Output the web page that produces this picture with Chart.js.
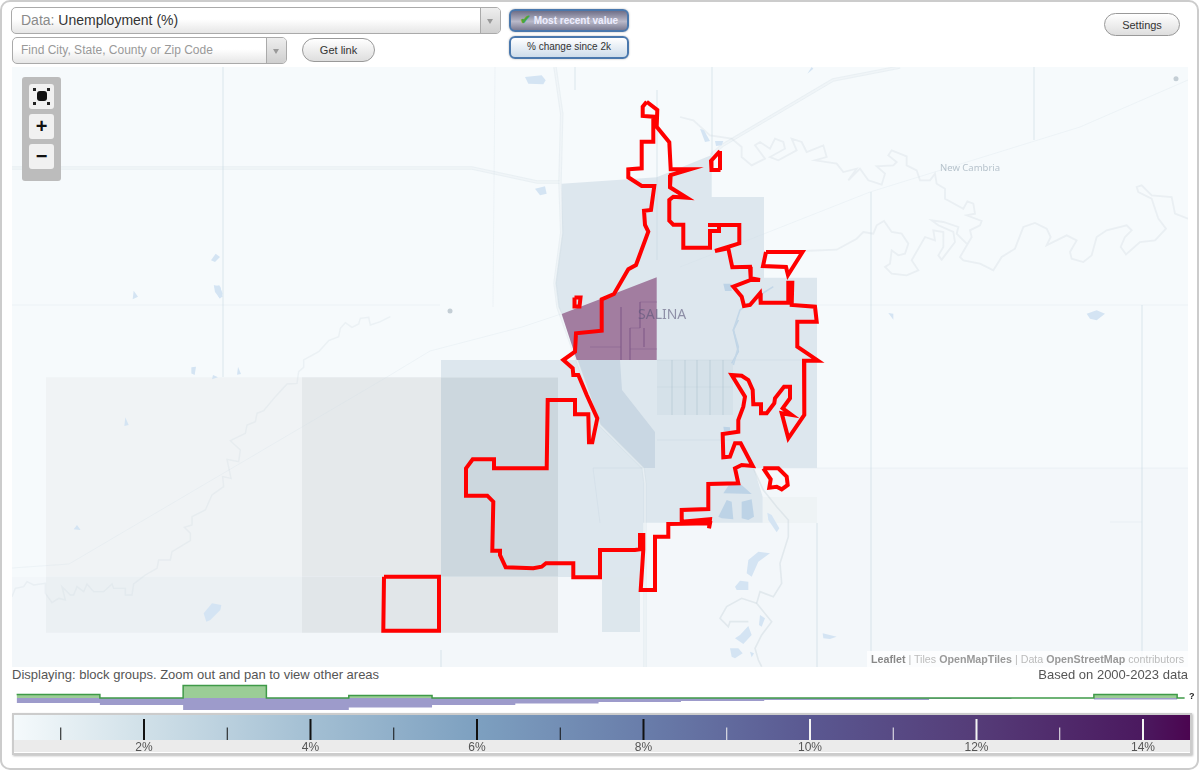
<!DOCTYPE html>
<html>
<head>
<meta charset="utf-8">
<title>Unemployment (%)</title>
<script src="https://cdn.jsdelivr.net/npm/chart.js@4"></script>
<style>
  html, body { margin: 0; padding: 0; background: #fff; }
  body { width: 1200px; height: 771px; position: relative; overflow: hidden; font-family: "Liberation Sans", Arial, sans-serif; }
  .frame { position: absolute; left: 0; top: 0; width: 1195px; height: 766px; border: 2px solid #ccc; border-radius: 10px; }
  .abs { position: absolute; box-sizing: border-box; white-space: nowrap; }
  canvas { position: absolute; display: block; }

  .select { border: 1px solid #aaa; border-radius: 5px; background: linear-gradient(#fff 45%, #e6e6e6); color: #8a8a8a; }
  .select .arrow { position: absolute; right: 0; top: 0; bottom: 0; width: 19px; border-left: 1px solid #aaa; background: linear-gradient(#eee, #cfcfcf); border-radius: 0 4px 4px 0; }
  .select .arrow::after { content: ""; position: absolute; left: 6px; top: 11px; border: 3px solid transparent; border-top: 5px solid #999; }
  .pill { border: 1px solid #999; border-radius: 13px; background: linear-gradient(#fff, #dedede); color: #333; font-size: 11px; text-align: center; line-height: 22px; }
  .toggle { border: 2px solid #4a78ad; border-radius: 6px; font-size: 10px; text-align: center; line-height: 18px; box-shadow: 0 0 2px #aaa; }

  .zoombox { left: 22px; top: 77px; width: 39px; height: 104px; background: #bcbcbc; border-radius: 3px; }
  .zoombtn { left: 29px; width: 25px; height: 25px; background: #f1f1f1; border-radius: 3px; text-align: center; font-weight: bold; font-size: 20px; line-height: 24px; color: #111; }
  .fit { left: 8px; top: 7px; width: 10px; height: 10px; background: #111; border-radius: 3px; }
  .corner { width: 3px; height: 3px; background: #222; }
</style>
</head>
<body>
<div class="frame"></div>

<div class="abs select" style="left:11px;top:7px;width:490px;height:27px;font-size:14px;line-height:25px;padding-left:9px;">Data: <span style="color:#333">Unemployment (%)</span><div class="arrow"></div></div>
<div class="abs select" style="left:12px;top:37px;width:275px;height:27px;font-size:12px;line-height:25px;padding-left:8px;color:#999;">Find City, State, County or Zip Code<div class="arrow"></div></div>
<div class="abs pill" style="left:302px;top:38px;width:73px;height:24px;">Get link</div>
<div class="abs toggle" style="left:509px;top:9px;width:120px;height:23px;color:#eef;font-weight:bold;background:linear-gradient(#6f6f88,#b9b9c9 55%,#7b7b92);"><span style="color:#4aa63c;font-size:13px;">&#10004;</span> Most recent value</div>
<div class="abs toggle" style="left:509px;top:36px;width:120px;height:23px;color:#333;background:linear-gradient(#fff,#cddcea);">% change since 2k</div>
<div class="abs pill" style="left:1104px;top:13px;width:76px;height:23px;font-size:11px;">Settings</div>

<canvas id="map-chart" width="1176" height="600" style="left:12px;top:67px;width:1176px;height:600px;"></canvas>

<div class="abs zoombox"></div>
<div class="abs zoombtn" style="top:84px;">
  <div class="abs fit"></div>
  <div class="abs corner" style="left:4px;top:4px;"></div><div class="abs corner" style="right:4px;top:4px;"></div>
  <div class="abs corner" style="left:4px;bottom:4px;"></div><div class="abs corner" style="right:4px;bottom:4px;"></div>
</div>
<div class="abs zoombtn" style="top:114px;">+</div>
<div class="abs zoombtn" style="top:144px;">&minus;</div>

<div class="abs" style="left:638px;top:306px;font-family:'Noto Sans',sans-serif;font-size:14px;line-height:16px;color:rgba(90,85,120,.6);">SALINA</div>
<div class="abs" style="left:940px;top:161px;font-family:'Noto Sans',sans-serif;font-size:9.5px;line-height:14px;color:#b7c3cc;">New Cambria</div>
<div class="abs" style="left:867px;top:651px;width:321px;height:16px;background:rgba(255,255,255,.75);font-size:10.7px;line-height:17px;padding-left:4px;color:#bbb;"><b style="color:#888;font-weight:bold">Leaflet</b> | Tiles <b style="color:#999">OpenMapTiles</b> | Data <b style="color:#999">OpenStreetMap</b> contributors</div>

<div class="abs" style="left:12px;top:667px;font-size:13px;line-height:15px;color:#555;">Displaying: block groups. Zoom out and pan to view other areas</div>
<div class="abs" style="right:12px;top:667px;font-size:13px;line-height:15px;color:#555;">Based on 2000-2023 data</div>

<canvas id="hist-chart" width="1176" height="30" style="left:14px;top:682px;width:1176px;height:30px;"></canvas>
<div class="abs" style="left:1189px;top:690px;font-size:9px;line-height:12px;font-weight:bold;color:#222;">?</div>

<div class="abs" style="left:12px;top:713px;width:1180px;height:42px;border:2px solid #ccc;box-shadow:1px 1px 2px #bbb;"></div>
<canvas id="scale-chart" width="1176" height="37" style="left:14px;top:715px;width:1176px;height:37px;background:#ebebeb;"></canvas>

<script>
// ==========================================================================
// Data: histogram and colour scale
// ==========================================================================
const binEdges = [0.47, 1.47, 2.47, 3.47, 4.46, 5.46, 6.46, 7.46, 8.45, 9.45, 10.44, 11.43, 12.42, 13.41, 14.41];
const placeShare = [3.5, 0, 12.5, 0, 2.5, 0, 0, 0, 0, 0, 0, 0, 0, 3.5];
const blockGroupShare = [5, 7, 12, 12, 9.5, 7, 5.5, 4, 3, 2, 2, 1, 0, 1.5];
const missingBinEnd = 14.5;

const labelledTicks = [2, 4, 6, 8, 10, 12, 14];
const darkMajorTicks = [2, 4, 6, 8];
const darkMinorTicks = [1, 3, 5, 7];
const lightMajorTicks = [10, 12, 14];
const lightMinorTicks = [9, 11, 13];
const scaleStopValues = [0.4384, 2, 4, 6, 8, 10, 12, 14, 14.5646];
const scaleStopColors = ['#f5fafc', '#d0e0e8', '#a3bfd3', '#7da0c0', '#697daa', '#5a5891', '#553c78', '#4b195f', '#4b0550'];

// ==========================================================================
// Data: map shapes, in map units (x, y of the 1176x600 view)
// ==========================================================================
const cityBoundary = [[646.7,101.7],[657.3,110],[656.7,126.7],[669.3,142.3],[670.7,169.3],[690,169.3],[670.7,175],[670,187.3],[686.7,197.7],[673.3,196.7],[669.3,200],[669.3,220.7],[673.3,224.7],[683.3,224.7],[683.3,247.7],[710,247.7],[710,231],[719,231],[719,225],[708,225],[719,225],[739.3,225],[739.3,243.3],[715,251],[728.3,248.3],[732.3,267.3],[750,266.7],[750.7,278.3],[760,280],[750.7,280],[733.3,286.7],[741.7,296.7],[744,306],[750,305],[760,293.3],[760.7,302.7],[788.3,302.7],[788.3,282.7],[792.3,282.7],[791.7,305],[815,306.7],[816.7,321.7],[797.3,321.7],[797.3,346.7],[818,360.7],[804,360.7],[804.3,415],[788.3,438.3],[781.7,413.3],[791.7,415],[782.7,408.3],[790,398.3],[790,386.7],[784,386.7],[775,398.3],[774.3,403.3],[766.7,413.3],[761.7,413.3],[761,404.3],[753.3,404.3],[752.7,390],[748.3,380],[741.7,375.7],[731.7,375],[745,396.7],[743.3,406.7],[738.3,420],[738.3,431.7],[722.7,434],[723.3,457.3],[730,456.7],[735,443.3],[740.7,443.3],[752.7,466],[741.7,465],[735,468.3],[738.3,483.3],[708.3,484],[708.3,509],[681.7,510],[681.7,521.7],[710,519.3],[709,528.3],[710,523.3],[668.3,524],[668.3,536.7],[655,536.7],[655,590],[640.7,590],[643.3,550],[643.3,535],[640,535],[640,549.3],[635,550],[600,550],[600,577.3],[573.3,577.3],[573.3,563.3],[546,563.3],[541.7,566.7],[533.3,568.3],[505.7,567.3],[500,555],[500,550.7],[492.3,550.7],[493.3,501.7],[487.3,495.7],[466,495.7],[466,468.3],[472.7,459.3],[494,459.3],[494,468.3],[546.7,468.3],[547.7,400],[575,400],[575,414.3],[588.3,414.3],[589,442.3],[592.3,442.3],[597.3,418.3],[586.7,395],[578.3,375],[573.3,375],[572.7,368.3],[563.3,360],[575,351.7],[576,333.3],[601.7,330.7],[601.7,299.3],[614,294],[628.3,269.3],[636,265],[648.3,231.7],[645,225],[644,210.7],[651,210],[654.3,186],[641.7,186],[628.3,177.3],[628.3,169.3],[641.7,168.3],[641.7,141.7],[653.3,141.7],[653.3,116.7],[642.7,116],[642.7,106.7],[646.7,101.7]];
const cityIslands = [
  [[574.5,297.5],[580.5,297.5],[579.5,306.5],[574.5,306.5],[574.5,297.5]],
  [[720,151],[711,161],[711.5,170],[720.5,170],[720,151]],
  [[766,252],[802.5,252],[788,275],[786,267],[763,266],[766,252]],
  [[763.3,468.3],[778.3,468.3],[786.7,476.7],[787.7,485],[781.7,489.3],[776.7,486.7],[769.3,487.7],[770.7,479.3],[763.3,468.3]],
  [[384,576.7],[439,576.7],[439,630.7],[383.3,630.7],[384,576.7]]
];

const selectedTract = [[561.7,314],[656.7,277.3],[656.7,360],[576.7,360],[561.7,314]];
const tractStreets = [
  [[621,307],[621,360]],
  [[640,302],[657,302]],
  [[640,302],[640,328],[630,328],[630,360]],
  [[630,349],[657,349]],
  [[644,328],[644,347]],
  [[590,347],[621,347]]
];

const lightArea = [[561.7,183.7],[656.7,177.3],[711.7,155],[711.7,197],[764,197],[764,277.7],[817,277.7],[817,468.3],[754,468.3],[762.7,497],[762.7,522.7],[643,522.7],[643,577],[558,577],[558,377],[441,377],[441,360],[576.7,360],[561.7,314],[558,307],[555,283.7],[561.7,233.7],[561.7,183.7]];
const midArea = [[577,360],[620,360],[622,390],[655,432],[655,468],[642,468],[600,425],[577,360]];
const centreArea = [[657,360],[733,360],[733,415],[657,415],[657,360]];
const southStrip = [[602,577],[640,577],[640,632],[602,632],[602,577]];
const darkArea = [[441,377.3],[558,377.3],[558,576.7],[441,576.7],[441,377.3]];
const westFarUpper = [[46,377.3],[302,377.3],[302,576.7],[46,576.7],[46,377.3]];
const westFarLower = [[46,576.7],[302,576.7],[302,632.7],[46,632.7],[46,576.7]];
const westNearUpper = [[302,377.3],[441,377.3],[441,576.7],[302,576.7],[302,377.3]];
const westNearLower = [[302,576.7],[558,576.7],[558,632.7],[302,632.7],[302,576.7]];
const eastFaint = [[763,497],[817,497],[817,523],[763,523],[763,497]];
const southEastTint = [[643,468],[1188,468],[1188,667],[643,667],[643,468]];
const southWestTint = [[12,577],[643,577],[643,667],[12,667],[12,577]];

const highways = [
  [[12,168],[472,168],[537,182],[560,182]],
  [[555,67],[561.7,113.7],[560,182],[561.7,233],[555,283],[558,307],[577,360],[600,425],[643,468],[645,483],[645,667]],
  [[711,155],[723,145],[833,80],[900,67]]
];
const sectionRoads = [
  [[223,67],[223,377]], [[495,67],[493,307]], [[657,90],[657,260]], [[712,67],[712,155]],
  [[12,305],[440,305]], [[817,305],[1188,305]], [[817,468],[1188,468]],
  [[561,314],[522,327],[430,351],[387,377],[302,427],[69,564],[12,568]],
  [[680,267],[870,192],[1080,127],[1188,80]],
  [[871,192],[871,667]], [[1142,305],[1142,667]], [[1034,67],[1034,140]],
  [[1110,522],[1142,522]], [[817,523],[817,667]], [[575,67],[575,90]], [[441,650],[441,667]]
];
const cityStreets = [
  [[672,360],[672,415]], [[685,360],[685,415]], [[697,360],[697,415]], [[710,360],[710,415]], [[723,360],[723,415]],
  [[657,387],[733,387]], [[657,360],[817,360]], [[593,468],[643,468]], [[657,440],[735,440]], [[593,468],[600,523]]
];

const riverEastMain = fromCrop(680, 67, [[0,150],[40,160],[90,205],[155,215],[185,240],[185,270],[215,295],[255,275],[225,235],[240,225],[270,245],[285,215],[310,225],[315,245],[270,270],[295,280],[350,250],[335,215],[365,225],[380,255],[430,235],[440,270],[405,280],[470,290],[490,315],[530,305],[505,340],[540,305],[565,340],[605,353],[615,320],[590,298],[640,295],[650,285],[625,265],[635,250],[680,268],[680,295],[710,310],[720,340],[750,340],[765,320],[770,350],[795,365],[795,395],[850,425],[862,403],[880,410],[885,440],[860,445],[905,462],[900,475],[870,490],[875,510],[840,570],[850,580],[900,590],[940,610],[965,570],[1005,545],[1030,480],[1065,468],[1100,485],[1112,510],[1100,535],[1160,505],[1190,520],[1170,555],[1175,575],[1210,585],[1235,565],[1250,510],[1280,490],[1340,475],[1355,490],[1335,510],[1322,540],[1338,562],[1380,525],[1425,520],[1458,485],[1435,455],[1415,395],[1375,375],[1370,360],[1385,355],[1415,385],[1475,390],[1485,440],[1524,455]]);
const riverEastBranch = fromCrop(680, 67, [[370,552],[470,548],[530,515],[550,495],[580,500],[590,475],[612,462],[635,495],[665,500],[685,530],[675,560],[655,565],[635,550],[630,590],[615,600],[635,620],[680,625],[715,610],[695,580],[715,545],[735,510],[765,520],[760,490],[790,495],[790,540],[775,565],[785,578],[825,525],[820,495],[775,475],[755,460],[790,465],[835,480],[830,500],[860,530]]);
const riverWest = fromCrop(12, 280, [[1135,110],[1105,125],[1075,135],[1070,112],[1045,115],[1040,132],[1020,142],[1000,128],[985,145],[980,170],[950,182],[920,215],[875,240],[875,262],[860,275],[855,310],[825,312],[790,350],[755,392],[735,400],[730,425],[705,435],[700,460],[655,482],[685,510],[680,545],[645,538],[657,595],[632,590],[635,620],[600,645],[580,690],[540,710],[540,735],[517,742],[535,760],[535,782],[480,815],[475,840],[440,840],[435,865],[400,885],[365,912],[360,945],[340,945],[340,925],[305,925],[300,912],[275,935],[245,935],[225,912],[215,935],[195,920],[185,945],[175,945],[150,920],[160,960],[140,955],[120,968],[100,940],[100,910],[65,915],[45,905],[35,920],[10,925],[0,950]]);
const riverSouth = fromCrop(680, 320, [[220,445],[250,510],[290,560],[325,600],[325,650],[300,730],[305,790],[280,830],[240,815],[230,850],[275,905],[245,945],[225,985],[235,1020],[245,1040]]);
const riverSouthLoop = fromCrop(680, 320, [[230,850],[185,835],[140,860],[120,895],[145,920],[150,905],[205,905]]);
const riverCity = fromCrop(680, 320, [[175,0],[160,30],[175,95],[155,130]]);
const riverCityNorth = fromCrop(540, 90, [[700,590],[660,615],[600,660],[580,720],[595,770],[580,825]]);

const waterBodies = [
  ...[[[975,30],[1025,25],[1037,40],[1030,52],[985,50]], [[1005,365],[1035,358],[1040,380],[1020,385]], [[33,580],[47,560],[60,570],[45,585]], [[42,658],[58,655],[68,680],[60,695],[45,675]]].map(p => fromCrop(200, 67, p)),
  ...[[[365,32],[378,50],[362,58]], [[605,15],[625,20],[632,50],[622,55]], [[538,262],[552,260],[548,285],[537,280]], [[603,285],[618,292],[600,298]], [[678,260],[687,282],[675,284]], [[340,412],[350,435],[337,438]], [[185,748],[195,735],[206,750]], [[575,1000],[600,970],[628,975],[625,990],[595,1020],[583,1025]]].map(p => fromCrop(12, 280, p)),
  ...[[[60,185],[72,190],[90,222],[75,225]], [[105,222],[130,222],[125,235],[108,237]], [[382,20],[395,0],[400,5]], [[625,738],[640,740],[640,758]], [[1220,740],[1250,730],[1275,740],[1250,760],[1230,755]]].map(p => fromCrop(680, 67, p)),
  ...[[[262,578],[275,585],[298,625],[290,637],[265,600]], [[205,720],[235,695],[270,700],[235,725],[215,770],[200,760]], [[165,800],[180,782],[205,785],[205,810],[170,810]], [[240,885],[255,895],[245,920],[237,915]], [[180,945],[205,918],[215,945],[190,972],[165,955]], [[150,985],[175,985],[188,1000],[165,1015],[155,1010]], [[210,995],[222,1000],[215,1012]], [[428,940],[470,950],[450,957],[430,955]]].map(p => fromCrop(680, 320, p))
];
const cityLakes = [
  ...[[[130,520],[150,490],[185,495],[215,522]], [[115,590],[140,540],[155,545],[160,598],[125,595]], [[185,545],[215,538],[222,590],[205,600],[185,595]], [[130,320],[150,322],[150,333],[132,333]]].map(p => fromCrop(680, 320, p)),
  fromCrop(680, 67, [[130,650],[155,650],[155,672],[135,672]])
];
const townDots = [[1176,78.7],[450,311]];

function fromCrop(left, top, points) {
  return points.map(p => [left + p[0] / 3, top + p[1] / 3]);
}

// ==========================================================================
// Dataset helpers
// ==========================================================================
function toXY(points) {
  return points.map(p => ({ x: p[0], y: p[1] }));
}

function areaSet(points, color) {
  return {
    data: toXY(points), showLine: true, pointRadius: 0, borderWidth: 0,
    backgroundColor: color, fill: 'shape'
  };
}

function lineSet(points, color, width) {
  return {
    data: toXY(points), showLine: true, pointRadius: 0, borderWidth: width,
    borderColor: color, fill: false
  };
}

function closed(points) {
  return points.concat([points[0]]);
}

const baseOptions = {
  responsive: false,
  animation: false,
  events: [],
  // no extra inset for line widths, the axes must fill the canvas exactly
  layout: { padding: 0, autoPadding: false },
  plugins: { legend: { display: false }, tooltip: { enabled: false } }
};

// ==========================================================================
// Map
// ==========================================================================
const mapLayers = [
  areaSet(southEastTint, '#f3f7fa'),
  areaSet(southWestTint, '#f3f7fa'),
  areaSet(westFarUpper, '#f0f3f5'),
  areaSet(westFarLower, '#ebf0f3'),
  areaSet(westNearUpper, '#e5e9eb'),
  areaSet(westNearLower, '#e1e6e9'),
  areaSet(eastFaint, '#eef3f5'),
  areaSet(lightArea, '#dde7ee'),
  areaSet(southStrip, '#dde7ed'),
  areaSet(darkArea, '#ccd7de'),
  areaSet(centreArea, '#d5e1e9'),
  areaSet(midArea, '#c9d7e3'),
  ...highways.map(r => lineSet(r, 'rgba(205,218,226,.3)', 3.5)),
  ...highways.map(r => lineSet(r, 'rgba(246,250,252,.5)', 1.5)),
  ...sectionRoads.map(r => lineSet(r, 'rgba(205,218,226,.22)', 1)),
  ...cityStreets.map(r => lineSet(r, 'rgba(170,190,210,.15)', 1)),
  lineSet(riverEastMain, 'rgba(205,216,222,.3)', 1.8),
  lineSet(riverEastBranch, 'rgba(205,216,222,.3)', 1.8),
  lineSet(riverWest, 'rgba(205,216,222,.25)', 1.4),
  lineSet(riverSouth, 'rgba(205,216,222,.45)', 1.6),
  lineSet(riverSouthLoop, 'rgba(205,216,222,.45)', 1.6),
  lineSet(riverCity, '#bfd4e6', 1.6),
  lineSet(riverCityNorth, '#c3d7e7', 1.6),
  ...waterBodies.map(w => areaSet(closed(w), '#d4e4f3')),
  ...cityLakes.map(w => areaSet(closed(w), '#bdd3e6')),
  { data: toXY(townDots), pointRadius: 2.5, pointBackgroundColor: '#c4ced5', pointBorderWidth: 0 },
  areaSet(selectedTract, '#a27da0'),
  ...tractStreets.map(r => lineSet(r, 'rgba(125,85,135,.4)', 1)),
  lineSet(cityBoundary, '#ff0000', 4),
  ...cityIslands.map(r => lineSet(r, '#ff0000', 4))
];

new Chart(document.getElementById('map-chart'), {
  type: 'scatter',
  // the library paints dataset 0 last, so hand the layers over back to front
  data: { datasets: mapLayers.reverse() },
  options: {
    ...baseOptions,
    scales: {
      x: { type: 'linear', display: false, min: 12, max: 1188 },
      y: { type: 'linear', display: false, min: 67, max: 667, reverse: true }
    }
  },
  plugins: [{
    id: 'mapBackground',
    beforeDraw(chart) {
      chart.ctx.fillStyle = '#f6fafc';
      chart.ctx.fillRect(0, 0, chart.width, chart.height);
    }
  }]
});

// ==========================================================================
// Histogram (same x range as the colour scale below it)
// ==========================================================================
const scaleMin = scaleStopValues[0];
const scaleMax = scaleStopValues[scaleStopValues.length - 1];

function stepPoints(values, sign) {
  const points = values.map((v, i) => ({ x: binEdges[i], y: sign * v }));
  points.push({ x: binEdges[values.length], y: 0 });
  points.push({ x: missingBinEnd, y: 0 });
  return points;
}

new Chart(document.getElementById('hist-chart'), {
  type: 'scatter',
  data: {
    datasets: [
      {
        data: stepPoints(placeShare, 1), showLine: true, stepped: true, pointRadius: 0,
        borderColor: '#3f9a48', borderWidth: 1.5, backgroundColor: '#9bcd96', fill: 'origin'
      },
      {
        data: stepPoints(blockGroupShare, -1), showLine: true, stepped: true, pointRadius: 0,
        borderWidth: 0, backgroundColor: '#9d9bcb', fill: 'origin'
      }
    ]
  },
  options: {
    ...baseOptions,
    scales: {
      x: { type: 'linear', display: false, min: scaleMin, max: scaleMax },
      y: { type: 'linear', display: false, min: -14, max: 16 }
    }
  }
});

// ==========================================================================
// Colour scale
// ==========================================================================
function scaleGradient(context) {
  const chart = context.chart;
  if (!chart.chartArea) return '#a3bfd3';
  const xScale = chart.scales.x;
  const left = xScale.getPixelForValue(scaleMin);
  const right = xScale.getPixelForValue(scaleMax);
  const gradient = chart.ctx.createLinearGradient(left, 0, right, 0);
  scaleStopValues.forEach((v, i) => {
    gradient.addColorStop((v - scaleMin) / (scaleMax - scaleMin), scaleStopColors[i]);
  });
  return gradient;
}

function tickLines(values, height, color, width) {
  const points = [];
  values.forEach(v => {
    points.push({ x: v, y: 0 }, { x: v, y: height }, { x: v, y: NaN });
  });
  return {
    data: points, showLine: true, pointRadius: 0, spanGaps: false,
    borderColor: color, borderWidth: width, fill: false
  };
}

new Chart(document.getElementById('scale-chart'), {
  type: 'scatter',
  data: {
    datasets: [
      tickLines(darkMajorTicks, 0.84, '#111', 2),
      tickLines(darkMinorTicks, 0.5, '#111', 1),
      tickLines(lightMajorTicks, 0.84, '#f4f4f4', 2),
      tickLines(lightMinorTicks, 0.5, '#f4f4f4', 1),
      {
        data: [{ x: scaleMin, y: 1 }, { x: scaleMax, y: 1 }], showLine: true, pointRadius: 0,
        borderWidth: 0, backgroundColor: scaleGradient, fill: 'origin'
      }
    ]
  },
  options: {
    ...baseOptions,
    scales: {
      x: {
        type: 'linear',
        min: scaleMin,
        max: scaleMax,
        grid: { display: false, drawTicks: false },
        border: { display: false },
        afterBuildTicks: axis => { axis.ticks = labelledTicks.map(value => ({ value })); },
        afterFit: axis => { axis.height = 12; },
        ticks: {
          autoSkip: false, maxRotation: 0, padding: 0, color: '#555',
          font: { family: '"Liberation Sans", Arial, sans-serif', size: 12 },
          callback: v => v + '%'
        }
      },
      y: { type: 'linear', display: false, min: 0, max: 1 }
    }
  }
});
</script>
</body>
</html>
